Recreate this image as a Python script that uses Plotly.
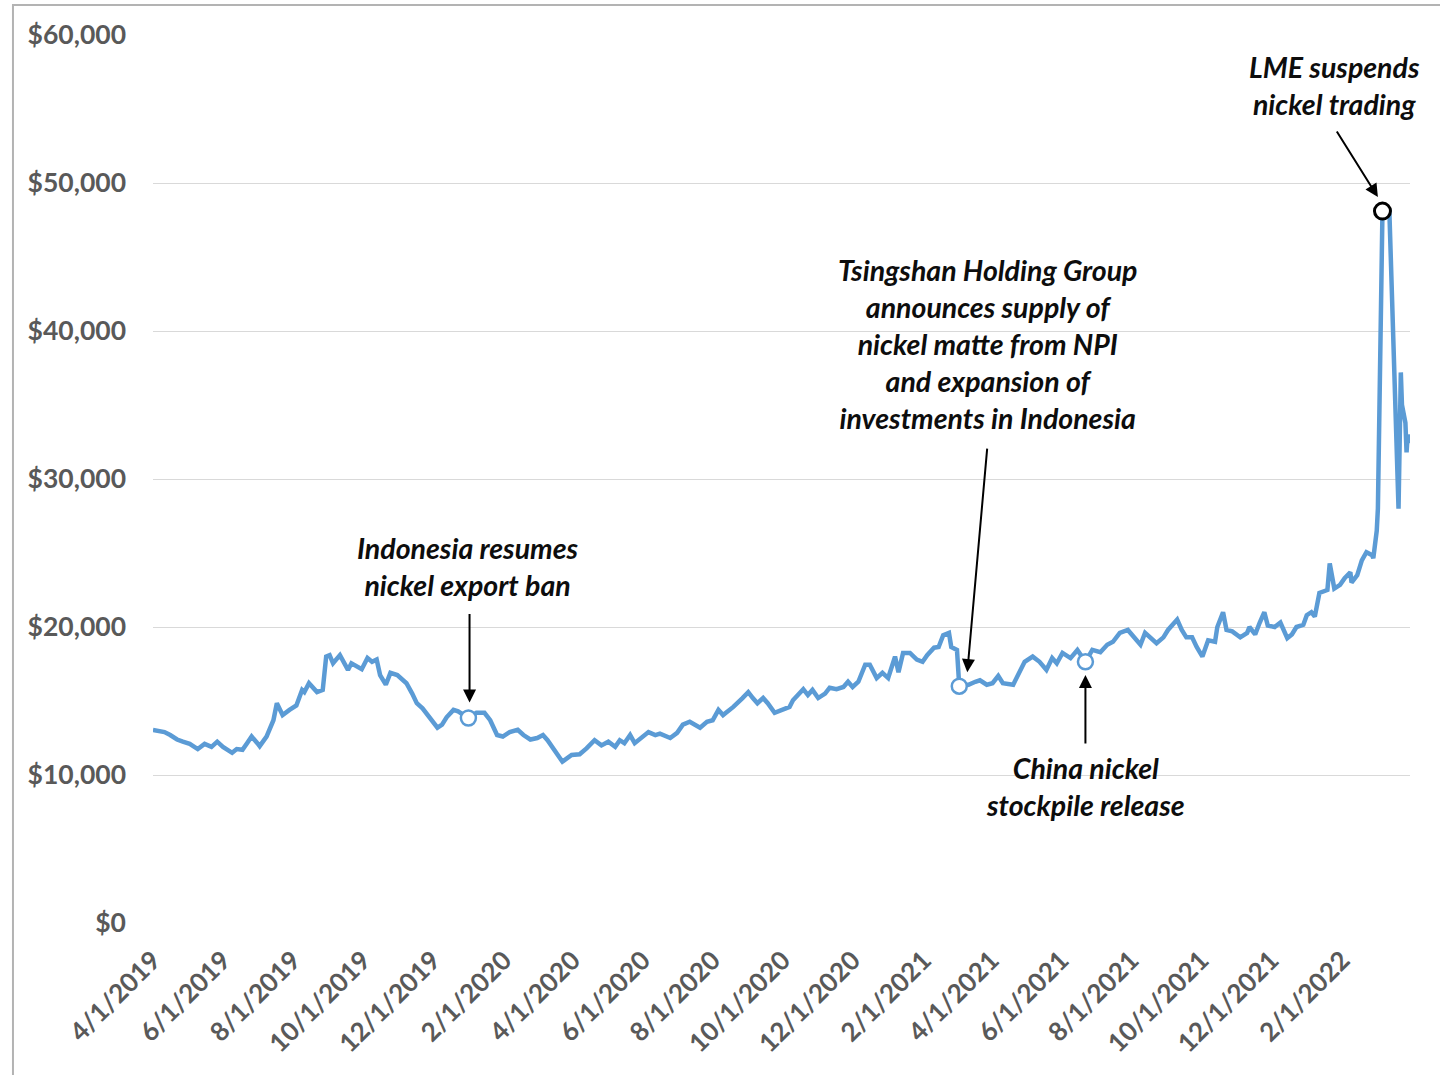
import plotly.graph_objects as go

# ---------------- data ----------------
dates = [
    "2019-04-01", "2019-04-07", "2019-04-11", "2019-04-16", "2019-04-22", "2019-04-27",
    "2019-05-03", "2019-05-10", "2019-05-16", "2019-05-22", "2019-05-27", "2019-06-01",
    "2019-06-09", "2019-06-13", "2019-06-18", "2019-06-22", "2019-06-26", "2019-07-01",
    "2019-07-03", "2019-07-09", "2019-07-12", "2019-07-15", "2019-07-18", "2019-07-23",
    "2019-07-29", "2019-08-04", "2019-08-09", "2019-08-11", "2019-08-15", "2019-08-22",
    "2019-08-27", "2019-08-30", "2019-09-02", "2019-09-05", "2019-09-11", "2019-09-18",
    "2019-09-21", "2019-09-27", "2019-09-30", "2019-10-05", "2019-10-09", "2019-10-13",
    "2019-10-16", "2019-10-21", "2019-10-25", "2019-10-31", "2019-11-05", "2019-11-08",
    "2019-11-13", "2019-11-17", "2019-11-22", "2019-11-28", "2019-12-05", "2019-12-09",
    "2019-12-13", "2019-12-19", "2019-12-23", "2020-01-01", "2020-01-08", "2020-01-15",
    "2020-01-20", "2020-01-26", "2020-01-31", "2020-02-06", "2020-02-13", "2020-02-18",
    "2020-02-24", "2020-03-01", "2020-03-06", "2020-03-10", "2020-03-15", "2020-03-21",
    "2020-03-23", "2020-03-31", "2020-04-07", "2020-04-13", "2020-04-20", "2020-04-26",
    "2020-05-02", "2020-05-08", "2020-05-12", "2020-05-16", "2020-05-21", "2020-05-25",
    "2020-05-30", "2020-06-06", "2020-06-12", "2020-06-16", "2020-06-25", "2020-07-01",
    "2020-07-06", "2020-07-12", "2020-07-21", "2020-07-27", "2020-08-01", "2020-08-06",
    "2020-08-10", "2020-08-19", "2020-08-27", "2020-09-01", "2020-09-05", "2020-09-09",
    "2020-09-14", "2020-09-18", "2020-09-24", "2020-10-01", "2020-10-07", "2020-10-10",
    "2020-10-19", "2020-10-23", "2020-10-27", "2020-11-01", "2020-11-07", "2020-11-11",
    "2020-11-17", "2020-11-23", "2020-11-27", "2020-12-01", "2020-12-06", "2020-12-12",
    "2020-12-16", "2020-12-22", "2020-12-27", "2021-01-01", "2021-01-07", "2021-01-10",
    "2021-01-14", "2021-01-20", "2021-01-26", "2021-01-31", "2021-02-04", "2021-02-10",
    "2021-02-14", "2021-02-18", "2021-02-23", "2021-02-25", "2021-03-02", "2021-03-04",
    "2021-03-12", "2021-03-18", "2021-03-22", "2021-03-28", "2021-04-02", "2021-04-07",
    "2021-04-11", "2021-04-20", "2021-04-26", "2021-04-30", "2021-05-07", "2021-05-13",
    "2021-05-19", "2021-05-24", "2021-05-28", "2021-06-02", "2021-06-09", "2021-06-15",
    "2021-06-22", "2021-06-28", "2021-07-05", "2021-07-11", "2021-07-16", "2021-07-22",
    "2021-07-29", "2021-08-02", "2021-08-09", "2021-08-13", "2021-08-17", "2021-08-23",
    "2021-08-29", "2021-09-02", "2021-09-10", "2021-09-14", "2021-09-18", "2021-09-23",
    "2021-09-27", "2021-10-02", "2021-10-07", "2021-10-13", "2021-10-15", "2021-10-20",
    "2021-10-23", "2021-10-28", "2021-11-04", "2021-11-10", "2021-11-12", "2021-11-17",
    "2021-11-21", "2021-11-25", "2021-11-28", "2021-12-04", "2021-12-09", "2021-12-15",
    "2021-12-19", "2021-12-23", "2021-12-29", "2022-01-01", "2022-01-05", "2022-01-08",
    "2022-01-12", "2022-01-19", "2022-01-21", "2022-01-25", "2022-01-30", "2022-02-03",
    "2022-02-08", "2022-02-09", "2022-02-14", "2022-02-18", "2022-02-22", "2022-02-27",
    "2022-02-28", "2022-03-03", "2022-03-04", "2022-03-07", "2022-03-08", "2022-03-14",
    "2022-03-16", "2022-03-17", "2022-03-18", "2022-03-21", "2022-03-22", "2022-03-23",
    "2022-03-24", "2022-03-25", "2022-03-28", "2022-03-29", "2022-03-30", "2022-03-31",
]

prices = [
    13050, 13000, 12900, 12700, 12400, 12250,
    12100, 11750, 12100, 11900, 12250, 11900,
    11500, 11750, 11700, 12150, 12600, 12150,
    11950, 12600, 13250, 13700, 14850, 14050,
    14400, 14700, 15750, 15600, 16200, 15600,
    15750, 18000, 18100, 17550, 18100, 17100,
    17550, 17300, 17150, 17900, 17650, 17800,
    16750, 16100, 16900, 16750, 16400, 16200,
    15500, 14850, 14500, 13900, 13200, 13400,
    13900, 14400, 14300, 13850, 14200, 14200,
    13700, 12700, 12600, 12900, 13050, 12700,
    12400, 12500, 12700, 12350, 11800, 11150,
    10900, 11350, 11400, 11800, 12350, 12000,
    12250, 11900, 12350, 12150, 12700, 12150,
    12500, 12900, 12700, 12800, 12500, 12850,
    13400, 13600, 13200, 13600, 13700, 14400,
    14050, 14600, 15200, 15600, 15200, 14850,
    15200, 14850, 14200, 14400, 14600, 15050,
    15800, 15400, 15750, 15200, 15500, 15900,
    15800, 15950, 16300, 15950, 16300, 17450,
    17450, 16550, 16900, 16550, 18000, 16950,
    18250, 18250, 17800, 17650, 18100, 18600,
    18650, 19450, 19600, 18650, 18450, 16000,
    16100, 16300, 16400, 16100, 16200, 16700,
    16200, 16100, 16950, 17650, 18000, 17650,
    17100, 17900, 17550, 18250, 17900, 18450,
    17650, 18450, 18300, 18800, 19000, 19600,
    19800, 19450, 18800, 19600, 19300, 18900,
    19300, 19800, 20500, 19800, 19300, 19300,
    18650, 18000, 19100, 19000, 20000, 21000,
    19800, 19700, 19300, 19600, 20000, 19500,
    20300, 21000, 20100, 20000, 20300, 19250,
    19500, 20000, 20150, 20800, 21000, 20700,
    22300, 22500, 24300, 22600, 22850, 23300,
    23700, 23000, 23500, 24500, 25050, 24850,
    24650, 26500, 28000, 42500, 48100, 48100,
    43000, 39500, 36500, 30500, 28000, 32500,
    37200, 35000, 33800, 31800, 33000, 32400,
]

# highlighted events (marker on the series)
event_dates = ["2020-01-01", "2021-03-04", "2021-06-22", "2022-03-08"]

# x-axis tick labels
tick_dates = [
    "2019-04-01", "2019-06-01", "2019-08-01", "2019-10-01", "2019-12-01",
    "2020-02-01", "2020-04-01", "2020-06-01", "2020-08-01", "2020-10-01", "2020-12-01",
    "2021-02-01", "2021-04-01", "2021-06-01", "2021-08-01", "2021-10-01", "2021-12-01",
    "2022-02-01",
]
tick_labels = [
    "4/1/2019", "6/1/2019", "8/1/2019", "10/1/2019", "12/1/2019",
    "2/1/2020", "4/1/2020", "6/1/2020", "8/1/2020", "10/1/2020", "12/1/2020",
    "2/1/2021", "4/1/2021", "6/1/2021", "8/1/2021", "10/1/2021", "12/1/2021",
    "2/1/2022",
]

price_by_date = dict(zip(dates, prices))
event_prices = [price_by_date[d] for d in event_dates]

# ---------------- figure ----------------
LINE_BLUE = "#5B9BD5"
FONT = "Lato"
GRAY_TXT = "#595959"

fig = go.Figure()
fig.add_trace(go.Scatter(
    x=dates, y=prices, mode="lines",
    line=dict(color=LINE_BLUE, width=4.5),
    hoverinfo="skip", showlegend=False,
))
fig.add_trace(go.Scatter(
    x=event_dates[:3], y=event_prices[:3], mode="markers",
    marker=dict(size=15, color="white", line=dict(color=LINE_BLUE, width=2.5)),
    hoverinfo="skip", showlegend=False,
))
fig.add_trace(go.Scatter(
    x=event_dates[3:], y=event_prices[3:], mode="markers",
    marker=dict(size=16, color="white", line=dict(color="#000000", width=3)),
    hoverinfo="skip", showlegend=False,
))

ann_font = dict(family=FONT, size=28.5, color="#0d0d0d")
texts = [
    # (x, y, text)
    ("2020-01-01", 24100, "<b><i>Indonesia resumes<br>nickel export ban</i></b>"),
    ("2021-03-29", 39100, "<b><i>Tsingshan Holding Group<br>announces supply of<br>nickel matte from NPI<br>and expansion of<br>investments in Indonesia</i></b>"),
    ("2021-06-22", 9250, "<b><i>China nickel<br>stockpile release</i></b>"),
    ("2022-01-25", 56600, "<b><i>LME suspends<br>nickel trading</i></b>"),
]
annotations = []
for x, y, t in texts:
    annotations.append(dict(x=x, y=y, text=t, showarrow=False, font=ann_font,
                            xanchor="center", yanchor="middle", align="center"))

arrows = [
    # head (x, y), tail offset in px
    ("2020-01-02", 14900, 0, -90),
    ("2021-03-11", 16950, 20, -225),
    ("2021-06-22", 16750, 0, 70),
    ("2022-03-04", 49050, -42, -67),
]
for x, y, ax, ay in arrows:
    annotations.append(dict(x=x, y=y, ax=ax, ay=ay, text="", showarrow=True,
                            arrowhead=2, arrowsize=1.3, arrowwidth=2,
                            arrowcolor="#000000", standoff=0, startstandoff=0))

fig.update_layout(
    width=1440, height=1075,
    margin=dict(l=153, r=30, t=35, b=152),
    paper_bgcolor="white", plot_bgcolor="white",
    font=dict(family=FONT, color=GRAY_TXT),
    annotations=annotations,
    shapes=[dict(type="rect", xref="paper", yref="paper",
                 x0=-0.1114, x1=1.05, y0=-0.25, y1=1.0338,
                 line=dict(color="#b3b3b3", width=2), layer="below")],
)
fig.update_xaxes(
    type="date", range=["2019-04-01", "2022-04-01"],
    tickmode="array", tickvals=tick_dates, ticktext=tick_labels,
    tickangle=-45, showgrid=False, showline=False, zeroline=False, ticks="",
    tickfont=dict(family=FONT, size=26, color=GRAY_TXT, weight="bold"),
    ticklabelstandoff=16,
)
fig.update_yaxes(
    range=[0, 60000], dtick=10000, tickprefix="$", tickformat=",",
    showgrid=True, gridcolor="#d9d9d9", gridwidth=1.3, zeroline=False,
    showline=False, ticks="",
    tickfont=dict(family=FONT, size=26.5, color=GRAY_TXT, weight="bold"),
    ticklabelstandoff=26,
)

fig.write_html("out.html",
               config={"displayModeBar": False},
               post_script="document.body.style.margin='0';document.body.style.padding='0';")
